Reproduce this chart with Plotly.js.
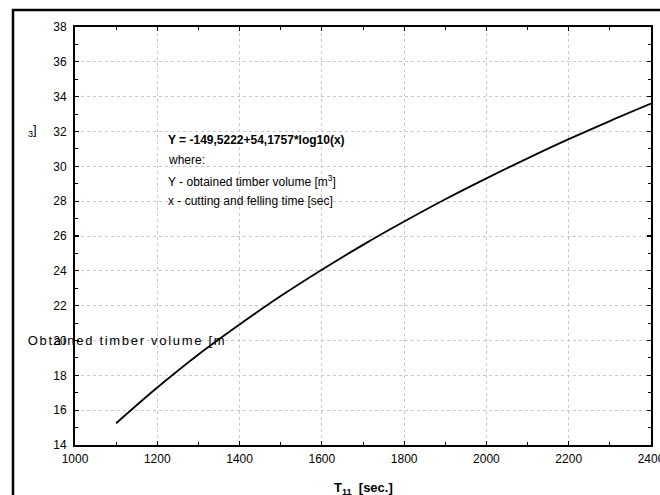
<!DOCTYPE html>
<html>
<head>
<meta charset="utf-8">
<script src="https://cdn.plot.ly/plotly-3.0.1.min.js"></script>
<style>
html,body{margin:0;padding:0;background:#fff;overflow:hidden;}
#wrap{position:relative;width:660px;height:495px;overflow:hidden;}
#chart{position:absolute;left:0;top:0;width:660px;height:495px;}
</style>
</head>
<body>
<div id="wrap"><div id="chart"></div></div>
<script>
// Values
const timeSec = [1100, 1200, 1300, 1400, 1500, 1600, 1700, 1800, 1900, 2000, 2100, 2200, 2300, 2400];
const volume  = [15.25, 17.3, 19.2, 20.92, 22.55, 24.06, 25.49, 26.83, 28.11, 29.31, 30.46, 31.56, 32.6, 33.6];
const xTicks = [1000, 1200, 1400, 1600, 1800, 2000, 2200, 2400];
const yTicks = [14, 16, 18, 20, 22, 24, 26, 28, 30, 32, 34, 36, 38];

const F = 'Liberation Sans, Arial, sans-serif';

const trace = {
  x: timeSec, y: volume, type: 'scatter', mode: 'lines',
  line: {color: '#000', width: 1.8, shape: 'spline', smoothing: 1},
  hoverinfo: 'skip'
};

const axisCommon = {
  showline: true, linecolor: '#000', linewidth: 2, mirror: 'ticks',
  ticks: 'inside', ticklen: 4, tickwidth: 1.2, tickcolor: '#000',
  showgrid: true, gridcolor: '#c8c8c8', griddash: 'dot', gridwidth: 1,
  zeroline: false, tickfont: {family: F, size: 12, color: '#000'},
  ticklabeloverflow: 'allow',
  minor: {ticks: 'inside', ticklen: 3, tickwidth: 1, tickcolor: '#000', showgrid: false}
};

const PL = 75, PT = 27, PW = 576, PH = 418;

const layout = {
  width: 660, height: 495,
  margin: {l: 75, r: 9, t: 27, b: 50},
  paper_bgcolor: '#fff', plot_bgcolor: '#fff',
  showlegend: false,
  xaxis: Object.assign({}, axisCommon, {
    range: [1000, 2400], tickvals: xTicks, ticktext: xTicks.map(String),
    minor: Object.assign({}, axisCommon.minor, {dtick: 100, tick0: 1000}),
    ticklabelstandoff: 2
  }),
  yaxis: Object.assign({}, axisCommon, {
    range: [14, 38], tickvals: yTicks, ticktext: yTicks.map(String),
    minor: Object.assign({}, axisCommon.minor, {dtick: 1, tick0: 14}),
    ticklabelstandoff: 4
  }),
  shapes: [
    {type: 'line', xref: 'paper', yref: 'paper', layer: 'above',
     x0: (12 - PL) / PW, x1: (662 - PL) / PW, y0: 1 + (PT - 10) / PH, y1: 1 + (PT - 10) / PH,
     line: {color: '#000', width: 2.5}},
    {type: 'line', xref: 'paper', yref: 'paper', layer: 'above',
     x0: (13 - PL) / PW, x1: (13 - PL) / PW, y0: 1 + (PT - 9) / PH, y1: (PT + PH - 497) / PH,
     line: {color: '#000', width: 2.5}}
  ],
  annotations: [
    {xref: 'paper', yref: 'y', x: (127 - 75) / 576, y: 20.0, xanchor: 'center', yanchor: 'middle',
     text: 'Obtained timber volume [m', showarrow: false, font: {family: F, size: 13, color: '#000'}},
    {xref: 'paper', yref: 'y', x: (26 - 75) / 576, y: 32.05, xanchor: 'left', yanchor: 'middle',
     text: '<sub>3</sub>]', showarrow: false, font: {family: F, size: 13, color: '#000'}},
    {xref: 'x', yref: 'y', x: 1222, y: 31.5, xanchor: 'left', yanchor: 'middle',
     text: '<b>Y = -149,5222+54,1757*log10(x)</b>', showarrow: false, font: {family: F, size: 12, color: '#000'}},
    {xref: 'x', yref: 'y', x: 1222, y: 30.36, xanchor: 'left', yanchor: 'middle',
     text: 'where:', showarrow: false, font: {family: F, size: 12, color: '#000'}},
    {xref: 'x', yref: 'y', x: 1222, y: 29.16, xanchor: 'left', yanchor: 'middle',
     text: 'Y - obtained timber volume [m<sup>3</sup>]', showarrow: false, font: {family: F, size: 12, color: '#000'}},
    {xref: 'x', yref: 'y', x: 1222, y: 28.01, xanchor: 'left', yanchor: 'middle',
     text: 'x - cutting and felling time [sec]', showarrow: false, font: {family: F, size: 12, color: '#000'}},
    {xref: 'paper', yref: 'paper', x: 0.5, y: (445 - 488) / 418, xanchor: 'center', yanchor: 'middle',
     text: '<b>T<sub>11</sub>  [sec.]</b>', showarrow: false, font: {family: F, size: 13, color: '#000'}}
  ]
};

Plotly.newPlot('chart', [trace], layout, {staticPlot: true, displayModeBar: false}).then(function () {
  const t = document.querySelectorAll('.annotation-text');
  if (t.length) { t[0].setAttribute('letter-spacing', '1.7px'); t[0].style.letterSpacing = '1.7px'; }
});
</script>
</body>
</html>
